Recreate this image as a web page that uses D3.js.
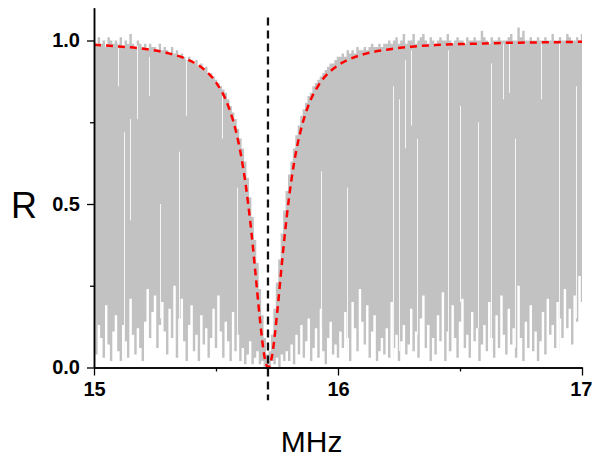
<!DOCTYPE html>
<html>
<head>
<meta charset="utf-8">
<script src="https://cdn.jsdelivr.net/npm/d3@7"></script>
<style>
  html, body { margin: 0; padding: 0; background: #fff; }
  svg { display: block; }
  text { font-family: "Liberation Sans", Arial, sans-serif; }
</style>
</head>
<body>
<svg id="chart" width="592" height="457"></svg>
<script>
// ---- data ----
const freqStart = 15.0;            // MHz, first sample of the measured trace
const freqStep = 0.01;             // MHz between samples
// upper edge of the measured (grey) trace
const measHigh = [
  1.00,0.99,1.01,0.99,1.00,0.98,1.01,1.00,0.99,1.00,
  0.99,1.01,0.98,1.00,0.99,1.02,0.99,0.98,1.00,0.99,
  0.98,0.99,0.97,0.99,0.98,0.98,0.97,0.99,0.97,0.98,
  0.97,0.96,0.98,0.96,0.97,0.95,0.96,0.95,0.94,0.95,
  0.94,0.93,0.94,0.92,0.93,0.91,0.92,0.90,0.90,0.89,
  0.88,0.87,0.86,0.85,0.84,0.82,0.80,0.78,0.76,0.73,
  0.70,0.67,0.63,0.58,0.52,0.46,0.39,0.32,0.24,0.16,
  0.09,0.04,0.05,0.10,0.18,0.26,0.33,0.41,0.48,0.54,
  0.59,0.63,0.67,0.71,0.74,0.77,0.79,0.81,0.83,0.84,
  0.86,0.87,0.88,0.89,0.90,0.91,0.92,0.93,0.93,0.94,
  0.95,0.95,0.96,0.95,0.97,0.96,0.97,0.96,0.98,0.97,
  0.97,0.98,0.97,0.98,0.99,0.98,0.98,0.99,0.98,0.99,
  0.99,1.00,0.99,1.00,1.01,0.99,1.00,1.02,0.99,1.00,
  1.00,1.02,0.99,1.00,1.01,1.02,1.00,0.99,1.01,1.00,
  0.99,1.00,1.01,1.00,1.00,1.02,1.00,0.99,1.00,1.01,
  1.00,1.00,0.99,1.01,1.00,1.00,1.01,1.00,1.00,1.03,
  1.01,1.00,0.99,1.01,1.00,1.00,1.01,1.00,1.00,1.00,
  1.01,1.02,1.00,1.00,1.04,1.01,1.03,1.00,1.00,1.01,
  1.00,1.00,1.01,1.00,1.00,1.01,1.00,1.00,1.02,1.00,
  1.00,1.01,1.00,1.00,1.02,1.01,1.00,1.00,1.01,1.00,
  1.02
];
// lower edge of the measured (grey) trace
const measLow = [
  0.15,0.04,0.13,0.09,0.03,0.19,0.07,0.02,0.11,0.16,
  0.05,0.02,0.13,0.08,0.03,0.21,0.10,0.04,0.12,0.06,
  0.02,0.14,0.24,0.09,0.17,0.22,0.06,0.13,0.20,0.11,
  0.04,0.18,0.09,0.25,0.03,0.15,0.21,0.08,0.02,0.13,
  0.19,0.05,0.10,0.02,0.16,0.07,0.12,0.03,0.09,0.18,
  0.06,0.22,0.11,0.03,0.14,0.08,0.02,0.17,0.05,0.10,
  0.02,0.06,0.01,0.04,0.08,0.01,0.03,0.05,0.01,0.02,
  0.00,0.01,0.00,0.02,0.01,0.03,0.00,0.04,0.02,0.05,
  0.02,0.07,0.01,0.10,0.04,0.13,0.03,0.08,0.15,0.02,
  0.06,0.12,0.03,0.18,0.05,0.01,0.09,0.14,0.04,0.07,
  0.03,0.11,0.06,0.17,0.09,0.02,0.20,0.12,0.05,0.24,
  0.14,0.07,0.19,0.03,0.11,0.16,0.02,0.05,0.09,0.04,
  0.12,0.03,0.20,0.06,0.10,0.02,0.08,0.13,0.04,0.07,
  0.18,0.05,0.11,0.03,0.15,0.22,0.06,0.13,0.02,0.09,
  0.04,0.16,0.08,0.23,0.02,0.11,0.05,0.19,0.09,0.03,
  0.14,0.21,0.06,0.10,0.03,0.17,0.08,0.12,0.02,0.07,
  0.13,0.05,0.20,0.09,0.03,0.16,0.06,0.22,0.10,0.04,
  0.18,0.07,0.12,0.03,0.25,0.09,0.02,0.14,0.06,0.19,
  0.05,0.11,0.02,0.08,0.17,0.04,0.21,0.10,0.13,0.06,
  0.20,0.15,0.09,0.24,0.12,0.18,0.07,0.22,0.14,0.28,
  0.20
];
// narrow drop-outs (white slivers) inside the grey trace
const gapFreq   = [15.098,15.123,15.148,15.176,15.225,15.270,15.348,15.377,15.525,15.586,15.930,16.037,16.225,16.250,16.275,16.299,16.324,16.451,16.500,16.574,16.627,16.676,16.701,16.725,16.832,16.906,16.975];
const gapTop    = [1.00,0.72,0.76,0.985,0.95,0.50,0.66,0.94,0.83,0.55,0.60,0.55,0.86,0.82,0.94,0.97,0.70,0.97,0.80,0.75,0.93,0.99,0.99,0.70,0.99,0.99,0.86];
const gapBottom = [0.86,0.02,0.45,0.76,0.83,0.15,0.10,0.77,0.70,0.10,0.12,0.05,0.03,0.05,0.67,0.74,0.10,0.04,0.20,0.12,0.05,0.82,0.84,0.06,0.82,0.05,0.15];
// fitted curve (red dashed)
const fitFreq = [15.00,15.10,15.20,15.30,15.40,15.45,15.50,15.55,15.58,15.60,15.62,15.64,15.66,15.68,15.70,15.714,15.73,15.75,15.77,15.79,15.81,15.83,15.85,15.88,15.92,15.96,16.00,16.10,16.20,16.30,16.40,16.50,16.60,16.70,16.80,16.90,17.00];
const fitR    = [0.987,0.982,0.975,0.962,0.936,0.912,0.872,0.800,0.728,0.659,0.568,0.449,0.302,0.147,0.028,0.000,0.037,0.162,0.318,0.462,0.578,0.667,0.733,0.804,0.863,0.900,0.924,0.957,0.972,0.981,0.986,0.989,0.991,0.993,0.994,0.995,0.996];
// resonance marker (black dashed)
const markerFreq = 15.713;
const markerSpan = [-0.10, 1.07];
// axes
const xTicksMajor = [15, 16, 17];
const xTicksMinor = [15.5, 16.5];
const yTicksMajor = [0.0, 0.5, 1.0];
const yTicksMinor = [0.25, 0.75];
const xDomain = [15, 17];
const yDomain = [0, 1.1];
const xLabel = "MHz";
const yLabel = "R";

// ---- drawing ----
const svg = d3.select("#chart");
const x = d3.scaleLinear().domain(xDomain).range([94, 582]);
const y = d3.scaleLinear().domain(yDomain).range([367.5, 7.8]);

const measured = measHigh.map((h, i) => ({ f: freqStart + i * freqStep, hi: h, lo: measLow[i] }));

svg.append("defs").append("clipPath").attr("id", "plotclip")
  .append("rect").attr("x", x(15)).attr("y", 0).attr("width", x(17) - x(15) + 1).attr("height", y(0));

const plot = svg.append("g").attr("clip-path", "url(#plotclip)");

plot.append("path")
  .datum(measured)
  .attr("fill", "#c2c2c2")
  .attr("d", d3.area().curve(d3.curveStep)
    .x(d => x(d.f)).y0(d => y(d.lo)).y1(d => y(d.hi)));

plot.selectAll("line.gap")
  .data(gapFreq.map((f, i) => ({ f, t: gapTop[i], b: gapBottom[i] })))
  .join("line")
  .attr("class", "gap")
  .attr("x1", d => Math.round(x(d.f)) + 0.5).attr("x2", d => Math.round(x(d.f)) + 0.5)
  .attr("y1", d => y(d.t)).attr("y2", d => y(d.b))
  .attr("stroke", "#f6f6f6").attr("stroke-width", 1);

svg.append("path")
  .datum(fitFreq.map((f, i) => ({ f, r: fitR[i] })))
  .attr("fill", "none")
  .attr("stroke", "#ff0000")
  .attr("stroke-width", 2.5)
  .attr("stroke-dasharray", "7,5")
  .attr("d", d3.line().curve(d3.curveMonotoneX).x(d => x(d.f)).y(d => y(d.r)));

svg.append("line")
  .attr("x1", x(markerFreq)).attr("x2", x(markerFreq))
  .attr("y1", y(markerSpan[1])).attr("y2", y(markerSpan[0]))
  .attr("stroke", "#111").attr("stroke-width", 2.3)
  .attr("stroke-dasharray", "8,5");

// axes
function styleAxis(g) {
  g.selectAll(".domain").attr("stroke", "#000").attr("stroke-width", 1.5);
  g.selectAll(".tick line").attr("stroke", "#000").attr("stroke-width", 1.3);
  g.selectAll("text").attr("font-family", "'Liberation Sans', Arial, sans-serif")
    .attr("font-weight", "bold").attr("font-size", 20).attr("fill", "#000");
}

svg.append("g").attr("transform", `translate(0,${y(0)})`)
  .call(d3.axisBottom(x).tickValues(xTicksMinor).tickSize(4).tickSizeOuter(0).tickFormat(""))
  .call(styleAxis);
const xMajor = svg.append("g").attr("transform", `translate(0,${y(0)})`)
  .call(d3.axisBottom(x).tickValues(xTicksMajor).tickSize(8).tickPadding(6.5).tickSizeOuter(0).tickFormat(d3.format("d")))
  .call(styleAxis);
// keep the last label inside the window
xMajor.selectAll(".tick text").filter(d => d === xDomain[1])
  .attr("text-anchor", "end").attr("x", 10);

svg.append("g").attr("transform", `translate(${x(15)},0)`)
  .call(d3.axisLeft(y).tickValues(yTicksMinor).tickSize(4).tickSizeOuter(0).tickFormat(""))
  .call(styleAxis);
svg.append("g").attr("transform", `translate(${x(15)},0)`)
  .call(d3.axisLeft(y).tickValues(yTicksMajor).tickSize(7).tickPadding(7).tickSizeOuter(0).tickFormat(d3.format(".1f")))
  .call(styleAxis);

svg.append("text").attr("x", 311.7).attr("y", 451.5)
  .attr("text-anchor", "middle").attr("font-size", 30).attr("fill", "#000").text(xLabel);
svg.append("text").attr("x", 11).attr("y", 218)
  .attr("text-anchor", "start").attr("font-size", 36).attr("fill", "#000").text(yLabel);
</script>
</body>
</html>
